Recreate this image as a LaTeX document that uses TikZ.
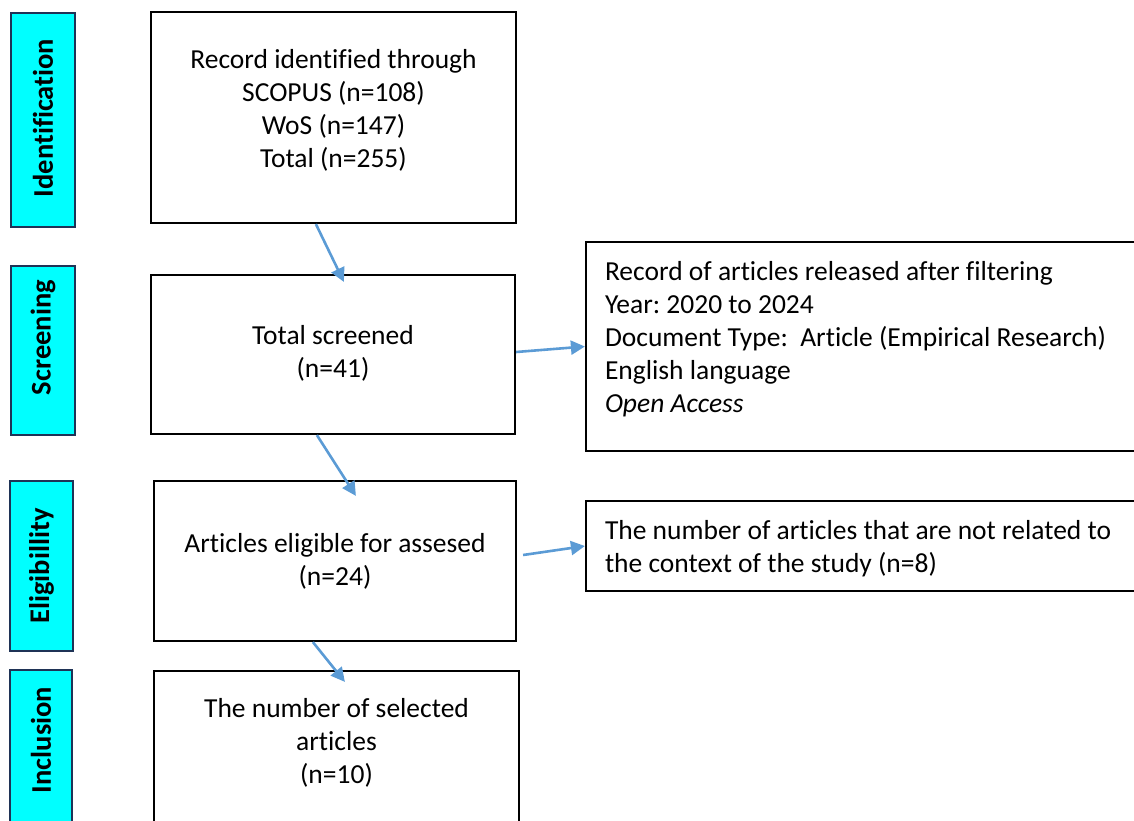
\documentclass[tikz,border=0pt]{standalone}
\usepackage{fontspec}
\setmainfont{Carlito}[Ligatures=NoCommon]
\frenchspacing
\usetikzlibrary{positioning,arrows.meta}
\definecolor{phasecyan}{HTML}{00FFFF}
\definecolor{phaseedge}{HTML}{1F3356}
\definecolor{arrowblue}{HTML}{5B9BD5}
\tikzset{every picture/.style={line width=2.2pt}}
\tikzset{
  phasebar/.style={draw=phaseedge, fill=phasecyan, line width=2.6pt, inner sep=0pt},
  phaselabel/.style={rotate=90, font=\fontsize{28.5}{32}\selectfont\bfseries, inner sep=0pt},
  flowbox/.style={draw, inner sep=0pt},
  flowtext/.style={align=center, font=\fontsize{27.5}{33}\selectfont, inner sep=0pt},
  sidetext/.style={align=left, font=\fontsize{27.5}{33}\selectfont, inner sep=0pt},
  flowarrow/.style={draw=arrowblue, line width=2.6pt, -{Triangle[length=14pt,width=14pt]}}
}

\begin{document}
\begin{tikzpicture}[x=1pt,y=-1pt]
              \clip (0,0) rectangle (1134,820);
              % phase bars on the left
              \node[phasebar, minimum width=64pt, minimum height=214pt] (idbar) at (43,120) {};
              \node[phasebar, minimum width=64pt, minimum height=169pt] (scbar) at (43,350.5) {};
              \node[phasebar, minimum width=63pt, minimum height=170pt] (elbar) at (41.5,566) {};
              \node[phasebar, minimum width=62pt, minimum height=180pt] (inbar) at (41,760) {};
              \node[phaselabel] (idlab) at ([yshift=2pt]idbar.center) {Identification};
              \node[phaselabel] (sclab) at ([yshift=13pt]scbar.center) {Screening};
              \node[phaselabel] (ellab) at (elbar.center) {Eligibillity};
              \node[phaselabel] (inlab) at ([yshift=20pt]inbar.center) {Inclusion};
              % main boxes
              \node[flowbox, minimum width=365pt, minimum height=211pt] (ident) at (333.5,117.5) {};
              \node[flowbox, minimum width=364pt, minimum height=159pt] (screen) at (333,354.5) {};
              \node[flowbox, minimum width=362pt, minimum height=160pt] (elig) at (335,561) {};
              \node[flowbox, minimum width=365pt, minimum height=179pt] (incl) at (336.5,760.5) {};
              \node[flowtext] (identtxt) at ([yshift=7pt]ident.center) {Record identified through\\SCOPUS (n=108)\\WoS (n=147)\\Total (n=255)};
              \node[flowtext] (screentxt) at ([yshift=1pt]screen.center) {Total screened\\(n=41)};
              \node[flowtext] (eligtxt) at (elig.center) {Articles eligible for assesed\\(n=24)};
              \node[flowtext] (incltxt) at ([yshift=18pt]incl.center) {The number of selected\\articles\\(n=10)};
              % side boxes
              \node[flowbox, minimum width=580pt, minimum height=209pt] (filt) at (876,346.5) {};
              \node[flowbox, minimum width=580pt, minimum height=90pt] (excl) at (876,546) {};
              \node[sidetext, below right=19.5pt and 19pt of filt.north west] (filttxt) {Record of articles released after filtering\\Year: 2020 to 2024\\Document Type:\ \ Article (Empirical Research)\\English language\\\textit{Open Access}};
              \node[sidetext, below right=19.5pt and 19pt of excl.north west] (excltxt) {The number of articles that are not related to\\the context of the study (n=8)};
              % arrows
              \draw[flowarrow] ([xshift=166pt]ident.south west) -- ([xshift=194pt,yshift=-8pt]screen.north west);
              \draw[flowarrow] ([xshift=167pt]screen.south west) -- ([xshift=203pt,yshift=-16pt]elig.north west);
              \draw[flowarrow] ([xshift=160pt]elig.south west) -- ([xshift=192pt,yshift=-12pt]incl.north west);
              \draw[flowarrow] ([yshift=2.5pt]screen.east) -- (filt.west);
              \draw[flowarrow] ([xshift=6pt,yshift=6pt]elig.east) -- (excl.west);
\end{tikzpicture}
\end{document}
